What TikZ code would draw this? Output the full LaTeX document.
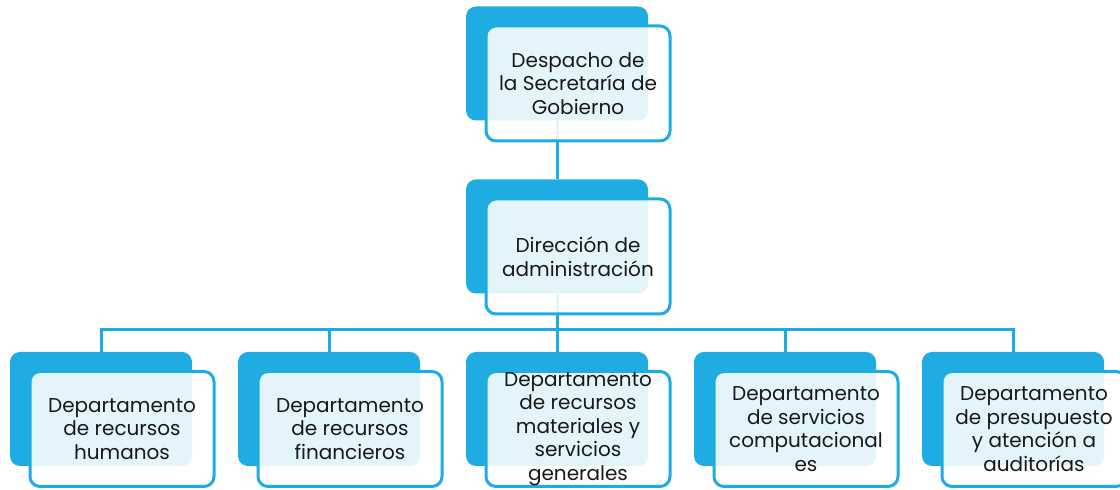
\documentclass[tikz,border=0pt]{standalone}
\usepackage{fontspec}
\setmainfont{Poppins}
\definecolor{azul}{RGB}{30,172,226}
\definecolor{texto}{RGB}{25,25,25}

\begin{document}
\begin{tikzpicture}[x=0.5pt,y=-0.5pt,
    fondo/.style={fill=azul, rounded corners=5pt, minimum width=91pt, minimum height=57pt, inner sep=0pt},
    caja/.style={draw=azul, line width=1.5pt, fill=white, fill opacity=0.88, text opacity=1,
                 rounded corners=5pt, minimum width=92pt, minimum height=57.5pt, inner sep=0pt,
                 align=center, text=texto, font=\fontsize{10}{11.75}\selectfont},
    linea/.style={draw=azul, line width=1.5pt}]

    \useasboundingbox (0,0) rectangle (1120,490);

    % --- Back boxes (solid blue) ---
    \node[fondo] (despachoB) at (557,63.5) {};
    \node[fondo] (direccionB) at (557,236.5) {};
    \node[fondo] (humanosB) at (101,409) {};
    \node[fondo] (financierosB) at (329,409) {};
    \node[fondo] (materialesB) at (557,409) {};
    \node[fondo] (computoB) at (785,409) {};
    \node[fondo] (presupuestoB) at (1013,409) {};

    % --- Connectors ---
    \coordinate (bus) at (557,330);
    \draw[linea] (despachoB.south) -- (direccionB.north);
    \draw[linea] (direccionB.south) -- (bus);
    \draw[linea] (bus) -| (humanosB.north);
    \draw[linea] (bus) -| (financierosB.north);
    \draw[linea] (bus) -- (materialesB.north);
    \draw[linea] (bus) -| (computoB.north);
    \draw[linea] (bus) -| (presupuestoB.north);

    % --- Front boxes with the texts ---
    \node[caja] (despacho) at ([shift={(21,20)}]despachoB.center)
        {Despacho de\\la Secretaría de\\Gobierno};
    \node[caja] (direccion) at ([shift={(21,20)}]direccionB.center)
        {Dirección de\\administración};
    \node[caja] (humanos) at ([shift={(21,20)}]humanosB.center)
        {Departamento\\de recursos\\humanos};
    \node[caja] (financieros) at ([shift={(21,20)}]financierosB.center)
        {Departamento\\de recursos\\financieros};
    \node[caja] (materiales) at ([shift={(21,20)}]materialesB.center)
        {Departamento\\de recursos\\materiales y\\servicios\\generales};
    \node[caja] (computo) at ([shift={(21,20)}]computoB.center)
        {Departamento\\de servicios\\computacional\\es};
    \node[caja] (presupuesto) at ([shift={(21,20)}]presupuestoB.center)
        {Departamento\\de presupuesto\\y atención a\\auditorías};

\end{tikzpicture}
\end{document}
